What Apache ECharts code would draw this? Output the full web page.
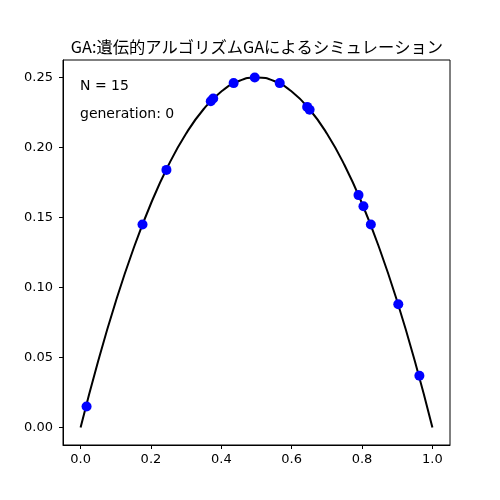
<!DOCTYPE html>
<html>
<head>
<meta charset="utf-8">
<script src="https://cdn.jsdelivr.net/npm/echarts@6/dist/echarts.min.js"></script>
<style>html,body{margin:0;padding:0;background:#fff}#c{width:500px;height:500px}</style>
</head>
<body>
<div id="c"></div>
<script>
const titleText = 'GA:遺伝的アルゴリズムGAによるシミュレーション';
const populationLabel = 'N = 15';
const generationLabel = 'generation: 0';
const xTicks = [0, 0.2, 0.4, 0.6, 0.8, 1.0];
const yTicks = [0, 0.05, 0.10, 0.15, 0.20, 0.25];
const curveX = [0,0.05,0.1,0.15,0.2,0.25,0.3,0.35,0.4,0.45,0.5,0.55,0.6,0.65,0.7,0.75,0.8,0.85,0.9,0.95,1.0];
const curveY = [0,0.0475,0.09,0.1275,0.16,0.1875,0.21,0.2275,0.24,0.2475,0.25,0.2475,0.24,0.2275,0.21,0.1875,0.16,0.1275,0.09,0.0475,0];
const pointsX = [0.017,0.176,0.244,0.370,0.377,0.435,0.495,0.566,0.644,0.651,0.790,0.804,0.825,0.903,0.963];
const pointsY = [0.015,0.145,0.184,0.233,0.235,0.246,0.250,0.246,0.229,0.227,0.166,0.158,0.145,0.088,0.037];

const chart = echarts.init(document.getElementById('c'), null, {renderer: 'canvas'});
const axisFont = {fontFamily: 'DejaVu Sans', fontSize: 13, color: '#000'};
chart.setOption({
  animation: false,
  backgroundColor: '#fff',
  title: {
    text: titleText,
    left: 252, top: 34, textAlign: 'center',
    textStyle: {fontFamily: 'Noto Sans CJK JP', fontSize: 16.3, fontWeight: 'normal', color: '#000'}
  },
  grid: {left: 63, right: 50, top: 60, bottom: 55, show: true, borderColor: '#000', borderWidth: 1, backgroundColor: 'transparent'},
  xAxis: {
    type: 'value', min: -0.05, max: 1.05,
    axisLine: {show: true, onZero: false, lineStyle: {color: '#000', width: 1}},
    axisTick: {show: true, length: 4, lineStyle: {color: '#000'}, customValues: xTicks},
    axisLabel: Object.assign({margin: 8, customValues: xTicks, formatter: v => v.toFixed(1)}, axisFont),
    splitLine: {show: false}
  },
  yAxis: {
    type: 'value', min: -0.0125, max: 0.2625,
    axisLine: {show: true, onZero: false, lineStyle: {color: '#000', width: 1}},
    axisTick: {show: true, length: 4, lineStyle: {color: '#000'}, customValues: yTicks},
    axisLabel: Object.assign({margin: 10, customValues: yTicks, formatter: v => v.toFixed(2)}, axisFont),
    splitLine: {show: false}
  },
  graphic: [
    {type: 'text', left: 80, top: 79, style: {text: populationLabel, font: '14px "DejaVu Sans"', fill: '#000'}},
    {type: 'text', left: 80, top: 107, style: {text: generationLabel, font: '14px "DejaVu Sans"', fill: '#000'}}
  ],
  series: [
    {
      type: 'line',
      data: curveX.map((x, i) => [x, curveY[i]]),
      smooth: true,
      showSymbol: false,
      lineStyle: {color: '#000', width: 2},
      z: 2
    },
    {
      type: 'scatter',
      data: pointsX.map((x, i) => [x, pointsY[i]]),
      symbol: 'circle',
      symbolSize: 10,
      itemStyle: {color: '#0000ff', opacity: 1},
      z: 3
    }
  ]
});
</script>
</body>
</html>
